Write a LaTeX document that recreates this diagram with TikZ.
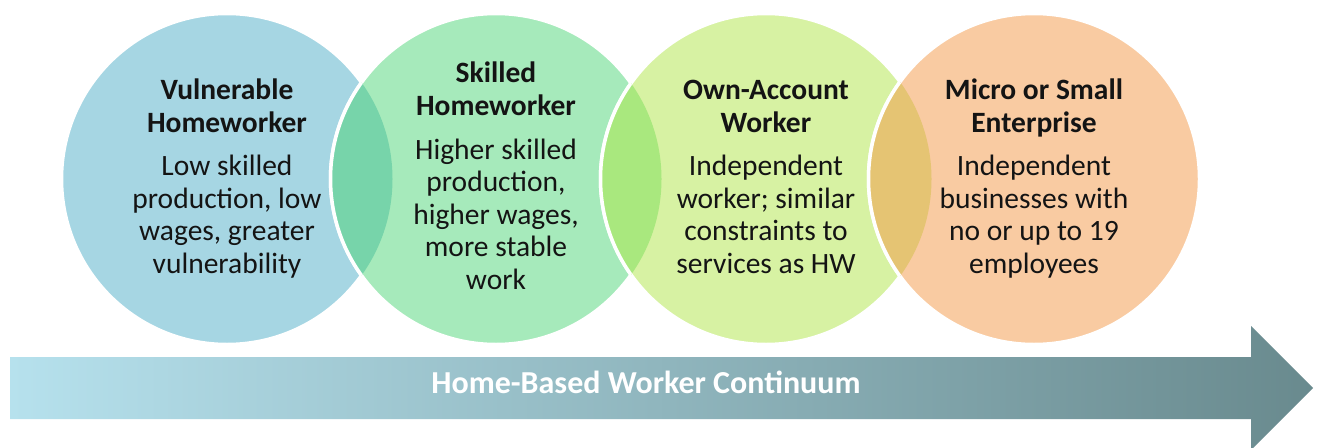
\documentclass[tikz,border=0pt]{standalone}
\usepackage{fontspec}
\setmainfont{Carlito}
\begin{document}
\begin{tikzpicture}[x=1pt,y=-1pt,
  bubble/.style={circle,inner sep=0pt,minimum size=331pt,draw=white,line width=3.5pt},
  title/.style={align=center,anchor=base,font=\fontsize{29.5}{32.5}\selectfont\bfseries,text=black!92},
  body/.style={align=center,anchor=base,font=\fontsize{29.5}{32.5}\selectfont,text=black!92}]
\definecolor{cA}{HTML}{A6D6E3}
\definecolor{cB}{HTML}{A6EABB}
\definecolor{cC}{HTML}{D7F2A3}
\definecolor{cD}{HTML}{F9CBA2}
\definecolor{oAB}{HTML}{77D4AA}
\definecolor{oBC}{HTML}{A9E87E}
\definecolor{oCD}{HTML}{E5C473}
\definecolor{arrL}{HTML}{B6E1ED}
\definecolor{arrR}{HTML}{698A8E}
\useasboundingbox (0,0) rectangle (1319,447);
% the four stages
\node[bubble,fill=cA] (c1) at (227,179) {};
\node[bubble,fill=cB] (c2) at (496,179) {};
\node[bubble,fill=cC] (c3) at (766,179) {};
\node[bubble,fill=cD] (c4) at (1034,179) {};
% overlapping lenses, with the white rim of the right circle
\foreach \l/\r/\col in {c1/c2/oAB,c2/c3/oBC,c3/c4/oCD}{
  \begin{scope}
    \clip (\l.center) circle (165.5);
    \fill[\col] (\r.center) circle (165.5);
    \draw[white,line width=3.5pt] (\r.center) circle (165.5);
  \end{scope}
}
% texts (base anchor sits on the last line)
\node[title] (h1) at (227,132) {Vulnerable\\Homeworker};
\node[body]  (b1) at (227,273) {Low skilled\\production, low\\wages, greater\\vulnerability};
\node[title] (h2) at (496,115) {Skilled\\Homeworker};
\node[body]  (b2) at (496,289) {Higher skilled\\production,\\higher wages,\\more stable\\work};
\node[title] (h3) at (766,132) {Own-Account\\Worker};
\node[body]  (b3) at (766,273) {Independent\\worker; similar\\constraints to\\services as HW};
\node[title] (h4) at (1034,132) {Micro or Small\\Enterprise};
\node[body]  (b4) at (1034,273) {Independent\\businesses with\\no or up to 19\\employees};
% continuum arrow
\shade[left color=arrL,right color=arrR]
  (10,357) -- (1251,357) -- (1251,326) -- (1313,388) -- (1251,450) -- (1251,419) -- (10,419) -- cycle;
\node[anchor=base,text=white,font=\fontsize{32}{36}\selectfont\bfseries] (arr) at (646,393) {Home-Based Worker Continuum};
\end{tikzpicture}
\end{document}
